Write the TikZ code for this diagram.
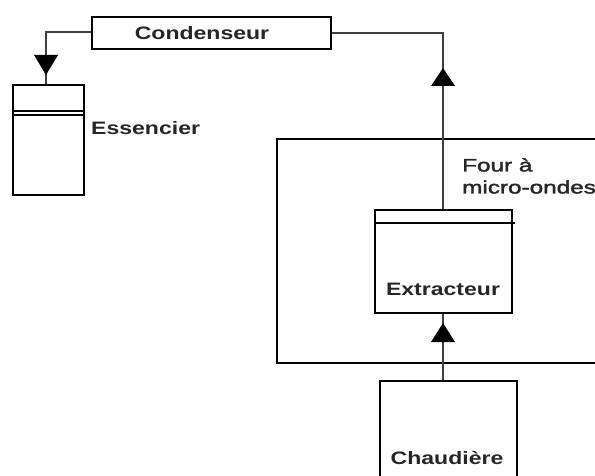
\documentclass[tikz,border=0pt]{standalone}
\usepackage{fontspec}
\newfontfamily\lab[FakeStretch=1.28]{Liberation Sans Bold}
\newfontfamily\labthin[FakeStretch=1.35,FakeBold=2]{Liberation Sans}
\begin{document}
\begin{tikzpicture}[x=1bp,y=-1bp,
  box/.style={draw=black,line width=1.8bp,inner sep=0pt},
  conn/.style={draw=black!75,line width=1.4bp},
  tri/.style={fill=black},
  txt/.style={font=\lab\fontsize{18bp}{21bp}\selectfont,text=black!85,inner sep=0pt},
  txtthin/.style={font=\labthin\fontsize{18bp}{22bp}\selectfont,text=black!85,inner sep=0pt,align=left}]
\useasboundingbox (0,0) rectangle (595,476);
\clip (0,0) rectangle (595,476);
% outer microwave box
\draw[box] (277,139) rectangle (640,363);
% Condenseur
\node[box,minimum width=239bp,minimum height=32bp] (cond) at (211.5,33) {};
\node[txt] (condt) at (202,33) {Condenseur};
% Essencier
\node[box,minimum width=71bp,minimum height=110bp] (ess) at (48.5,140) {};
\draw[line width=1.4bp] (ess.west |- 0,111) -- (ess.east |- 0,111);
\draw[line width=1.4bp] (ess.west |- 0,115) -- (ess.east |- 0,115);
\node[txt,anchor=west] (esst) at (91,128) {Essencier};
% Extracteur
\node[box,minimum width=137bp,minimum height=103bp] (ext) at (443.5,261.5) {};
\draw[line width=1.4bp] (ext.west |- 0,223) -- (515,223);
\node[txt] (extt) at (443,289) {Extracteur};
% Chaudiere
\node[box,minimum width=137bp,minimum height=140bp] (chau) at (448.5,451) {};
\node[txt] (chaut) at (447,458) {Chaudière};
% Four label
\node[txtthin,anchor=north west] (four) at (462,158) {Four à\\micro-ondes};
% connectors
\coordinate (c1) at (46,32);
\draw[conn] (cond.west |- c1) -- (c1) -- (c1 |- ess.north);
\coordinate (c2) at (443,33);
\draw[conn] (cond.east |- c2) -- (c2) -- (c2 |- ext.north);
\draw[conn] (chau.north -| 443,0) -- (ext.south -| 443,0);
% arrowheads
\fill[tri] (34,55) -- (58,55) -- (46,75) -- cycle;
\fill[tri] (431,86) -- (455,86) -- (443,68) -- cycle;
\fill[tri] (431,342) -- (455,342) -- (443,323) -- cycle;
\end{tikzpicture}
\end{document}
